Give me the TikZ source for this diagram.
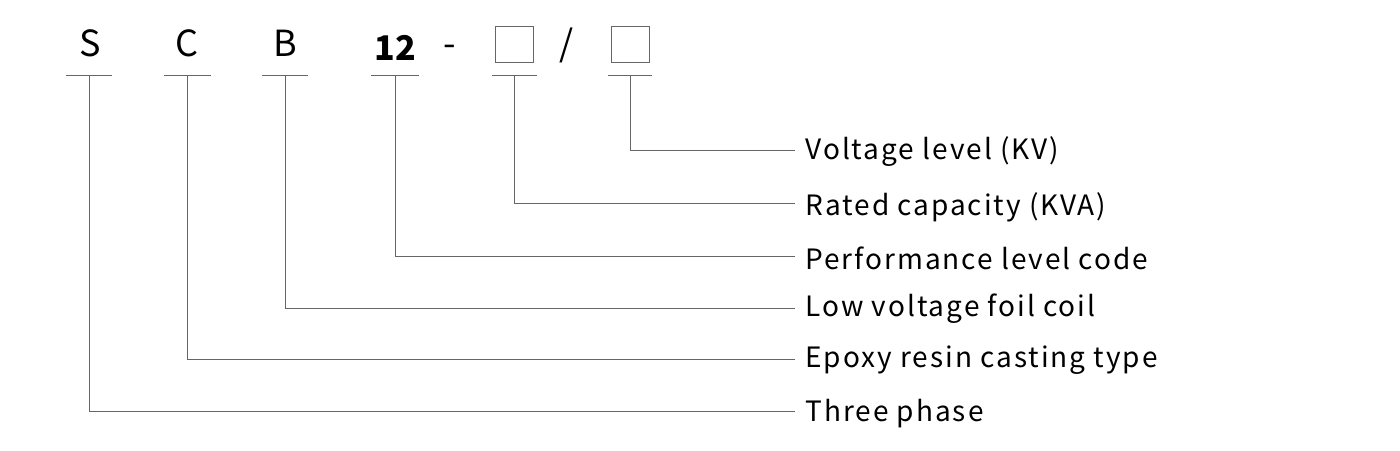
\documentclass[tikz,border=0pt]{standalone}
\usepackage{fontspec}
\setmainfont{Noto Sans CJK SC}
\usetikzlibrary{positioning}

\begin{document}
\begin{tikzpicture}[x=1pt,y=-1pt,
    code/.style={font=\fontsize{36}{40}\selectfont, anchor=base},
    lead/.style={draw=black!60, line width=0.8pt},
    desc/.style={font=\fontsize{28}{32}\selectfont\addfontfeatures{LetterSpace=7}, anchor=west}]
    \useasboundingbox (0,0) rectangle (1400,450);

    % Code letters
    \node[code] (s) at (90,56) {S};
    \node[code] (c) at (187,56) {C};
    \node[code] (b) at (285,56) {B};
    \node[code, font=\fontsize{34}{40}\selectfont\bfseries] (n) at (395,60) {12};
    \node[code] (dash) at (450,56) {-};
    \node[draw=black!60, line width=0.8pt, minimum width=38pt, minimum height=36pt] (p) at (514,44) {};
    \node[code] (slash) at (567,56) {/};
    \node[draw=black!60, line width=0.8pt, minimum width=38pt, minimum height=36pt] (v) at (630,44) {};

    % Underlines
    \coordinate (us) at (89,75);
    \coordinate (uc) at (187,75);
    \coordinate (ub) at (285,75);
    \coordinate (un) at (395,75);
    \coordinate (up) at (514,75);
    \coordinate (uv) at (630,75);
    \draw[lead] (66,75) -- (112,75);
    \draw[lead] (164,75) -- (211,75);
    \draw[lead] (262,75) -- (308,75);
    \draw[lead] (371,75) -- (419,75);
    \draw[lead] (492,75) -- (537,75);
    \draw[lead] (608,75) -- (652,75);

    % Descriptions
    \node[desc] (dv) at (802,152) {Voltage level (KV)};
    \node[desc] (dp) at (802,207) {Rated capacity (KVA)};
    \node[desc] (dn) at (802,258) {Performance level code};
    \node[desc] (db) at (802,309) {Low voltage foil coil};
    \node[desc] (dc) at (802,360) {Epoxy resin casting type};
    \node[desc] (ds) at (802,414) {Three phase};

    % Leaders
    \draw[lead] (uv) |- (795,150);
    \draw[lead] (up) |- (795,203);
    \draw[lead] (un) |- (795,256);
    \draw[lead] (ub) |- (795,308);
    \draw[lead] (uc) |- (795,359);
    \draw[lead] (us) |- (795,411);
\end{tikzpicture}
\end{document}
